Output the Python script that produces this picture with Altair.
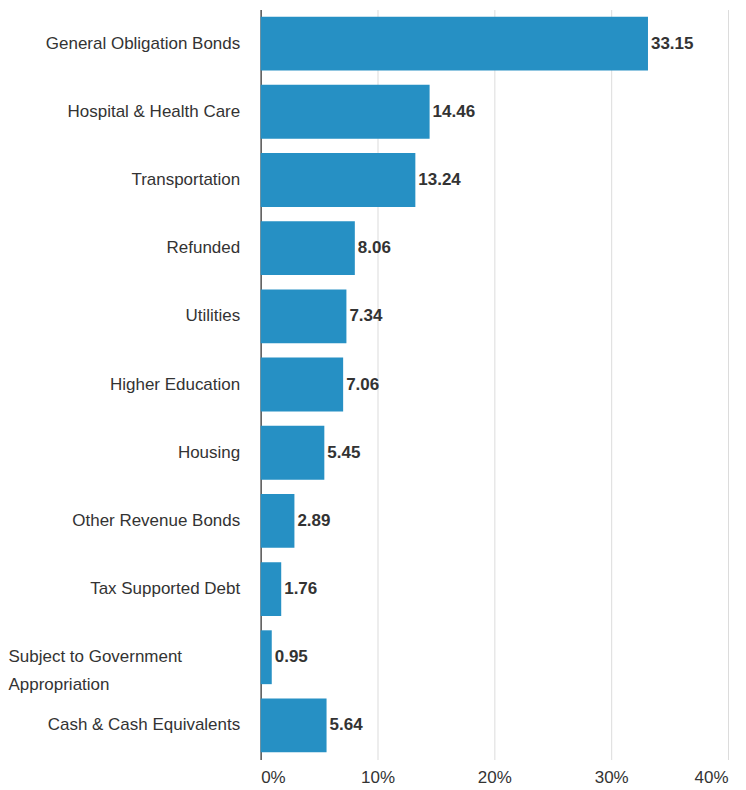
import altair as alt
import pandas as pd

categories = [
    "General Obligation Bonds",
    "Hospital & Health Care",
    "Transportation",
    "Refunded",
    "Utilities",
    "Higher Education",
    "Housing",
    "Other Revenue Bonds",
    "Tax Supported Debt",
    "Subject to Government Appropriation",
    "Cash & Cash Equivalents",
]
values = [33.15, 14.46, 13.24, 8.06, 7.34, 7.06, 5.45, 2.89, 1.76, 0.95, 5.64]
x_ticks = [0, 10, 20, 30, 40]

df = pd.DataFrame({"cat": categories, "val": values})
df["lbl"] = [f"{v:.2f}" for v in values]

FONT = "Liberation Sans Narrow, Arial Narrow, Liberation Sans, Arial, sans-serif"
WRAP = "Subject to Government Appropriation"
FS = 17

y_enc = alt.Y(
    "cat:N",
    sort=categories,
    title=None,
    scale=alt.Scale(paddingInner=0.21, paddingOuter=0.105),
    axis=alt.Axis(
        domain=True,
        domainColor="#555555",
        domainWidth=1.5,
        ticks=False,
        labelFont=FONT,
        labelFontSize=FS,
        labelColor="#333333",
        labelLimit=400,
        labelLineHeight=28,
        labelPadding={"condition": {"test": f"datum.value == '{WRAP}'", "value": 253}, "value": 21},
        labelAlign={"condition": {"test": f"datum.value == '{WRAP}'", "value": "left"}, "value": "right"},
        labelExpr=f"datum.value == '{WRAP}' ? ['Subject to Government', 'Appropriation'] : datum.label",
    ),
)

x_enc = alt.X(
    "val:Q",
    title=None,
    scale=alt.Scale(domain=[0, 40], nice=False),
    axis=alt.Axis(
        values=x_ticks,
        labelExpr="datum.value + '%'",
        domain=False,
        ticks=False,
        grid=True,
        gridColor="#dcdcdc",
        gridWidth=1,
        labelFont=FONT,
        labelFontSize=FS,
        labelColor="#333333",
        labelPadding=10,
    ),
)

bars = alt.Chart(df).mark_bar(color="#2690C4").encode(y=y_enc, x=x_enc)

text = alt.Chart(df).mark_text(
    align="left",
    baseline="middle",
    dx=3,
    font=FONT,
    fontSize=FS,
    fontWeight="bold",
    color="#333333",
).encode(y=alt.Y("cat:N", sort=categories), x="val:Q", text="lbl:N")

chart = (
    alt.layer(bars, text)
    .properties(
        width=468,
        height=751,
        autosize=alt.AutoSizeParams(type="none"),
        padding={"left": 253, "top": 1, "right": 10, "bottom": 30},
    )
    .configure_view(stroke=None)
)

chart.save("out.html", embed_options={"renderer": "svg", "actions": False})
